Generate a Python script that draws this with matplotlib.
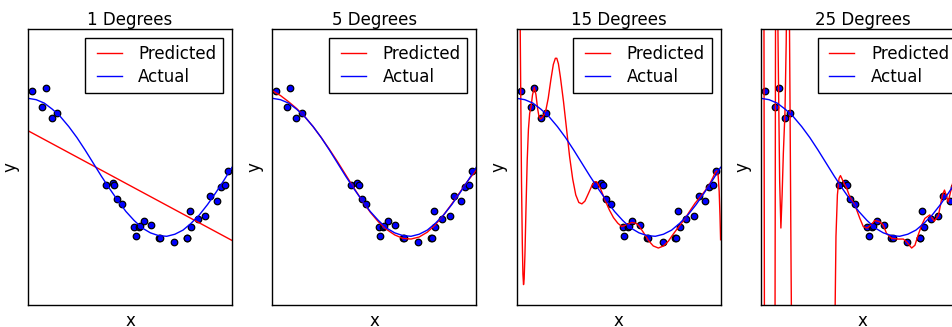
import matplotlib
matplotlib.use("Agg")
import matplotlib.pyplot as plt

# Noisy samples of the target curve
x_points = [0.0202, 0.0710, 0.0871, 0.1183, 0.1434, 0.3834, 0.4147, 0.4237,
            0.4376, 0.4615, 0.5219, 0.5289, 0.5449, 0.5488, 0.5680, 0.6028,
            0.6399, 0.6459, 0.7152, 0.7782, 0.7805, 0.7917, 0.7992, 0.8326,
            0.8700, 0.8918, 0.9256, 0.9447, 0.9637, 0.9786]
y_points = [1.11, 0.87, 1.15, 0.71, 0.79, -0.25, -0.23, -0.26,
            -0.46, -0.53, -0.86, -1.00, -0.86, -0.85, -0.78, -0.84,
            -1.03, -1.03, -1.08, -1.03, -1.02, -0.64, -0.87, -0.75,
            -0.70, -0.41, -0.49, -0.28, -0.26, -0.06]

# The underlying ("Actual") curve
x_actual = [0.00, 0.04, 0.08, 0.12, 0.16, 0.20, 0.24, 0.28, 0.32, 0.36,
            0.40, 0.44, 0.48, 0.52, 0.56, 0.60, 0.64, 0.68, 0.72, 0.76,
            0.80, 0.84, 0.88, 0.92, 0.96, 1.00]
y_actual = [1.00, 0.98, 0.93, 0.84, 0.73, 0.59, 0.43, 0.25, 0.06, -0.13,
            -0.31, -0.48, -0.64, -0.77, -0.88, -0.95, -0.99, -1.00, -0.97, -0.91,
            -0.81, -0.69, -0.54, -0.37, -0.19, 0.00]

# Model predictions for each polynomial degree
x_deg1 = [0.0, 1.0]
y_deg1 = [0.53, -1.06]

x_deg5 = x_actual
y_deg5 = [1.11, 1.04, 0.95, 0.85, 0.73, 0.59, 0.43, 0.26, 0.08, -0.11,
          -0.30, -0.48, -0.65, -0.79, -0.90, -0.98, -1.03, -1.04, -1.01, -0.94,
          -0.83, -0.69, -0.53, -0.36, -0.19, -0.04]

x_deg15 = [0.0, 0.008, 0.014, 0.018, 0.0202, 0.024, 0.028, 0.031, 0.034, 0.037,
           0.041, 0.046, 0.052, 0.058, 0.064, 0.071, 0.078, 0.087, 0.095, 0.103,
           0.11, 0.117, 0.125, 0.134, 0.143, 0.155, 0.168, 0.18, 0.19, 0.197,
           0.205, 0.215, 0.23, 0.245, 0.26, 0.275, 0.29, 0.305, 0.32, 0.335,
           0.352, 0.37, 0.383, 0.393, 0.41, 0.434, 0.455, 0.475, 0.496, 0.516,
           0.54, 0.565, 0.585, 0.6, 0.623, 0.646, 0.67, 0.695, 0.72, 0.744,
           0.765, 0.785, 0.806, 0.826, 0.85, 0.875, 0.9, 0.924, 0.945, 0.962,
           0.975, 0.982, 0.988, 0.993, 0.997, 1.0]
y_deg15 = [9.0, 5.5, 3.2, 1.9, 1.11, -0.2, -1.1, -1.55, -1.70, -1.62,
           -1.25, -0.6, 0.1, 0.55, 0.78, 0.88, 1.05, 1.16, 1.05, 0.85,
           0.73, 0.70, 0.72, 0.76, 0.82, 1.0, 1.27, 1.49, 1.58, 1.58,
           1.5, 1.3, 0.95, 0.55, 0.15, -0.17, -0.40, -0.51, -0.53, -0.49,
           -0.38, -0.26, -0.21, -0.21, -0.30, -0.48, -0.62, -0.73, -0.81, -0.86,
           -0.83, -0.80, -0.81, -0.85, -0.95, -1.06, -1.14, -1.17, -1.14, -1.07,
           -0.98, -0.90, -0.82, -0.74, -0.63, -0.52, -0.43, -0.34, -0.25, -0.15,
           -0.07, -0.05, -0.12, -0.35, -0.7, -1.05]

x_deg25 = [0.0, 0.012, 0.0202, 0.066, 0.075, 0.080, 0.086, 0.092, 0.098, 0.104,
           0.11, 0.118, 0.124, 0.128, 0.133, 0.138, 0.143, 0.148, 0.152, 0.16,
           0.355, 0.362, 0.368, 0.375, 0.383, 0.39, 0.398, 0.41, 0.42, 0.436,
           0.461, 0.485, 0.502, 0.521, 0.538, 0.559, 0.583, 0.6, 0.616, 0.641,
           0.673, 0.698, 0.714, 0.739, 0.755, 0.771, 0.788, 0.804, 0.828, 0.85,
           0.87, 0.89, 0.90, 0.918, 0.94, 0.96, 0.98, 1.0]
y_deg25 = [8.0, 8.0, -8.0, -8.0, 8.0, 3.0, 1.3, -0.2, -0.88, -0.4,
           0.2, 0.8, 1.8, 3.0, 3.5, 3.0, 0.8, -1.5, -3.0, -8.0,
           -8.0, -2.5, -1.0, -0.4, -0.16, -0.12, -0.17, -0.25, -0.30, -0.43,
           -0.55, -0.74, -0.86, -0.88, -0.84, -0.77, -0.79, -0.84, -0.96, -1.03,
           -1.04, -1.04, -1.08, -1.17, -1.13, -0.98, -0.84, -0.74, -0.69, -0.78,
           -0.70, -0.40, -0.33, -0.50, -0.23, -0.20, -0.05, -0.30]

degrees = [1, 5, 15, 25]
predictions = [(x_deg1, y_deg1), (x_deg5, y_deg5),
               (x_deg15, y_deg15), (x_deg25, y_deg25)]

W, H = 953, 327
fig = plt.figure(figsize=(W / 100, H / 100), dpi=100)
plt.rcParams["font.family"] = "DejaVu Sans"

ax_w, ax_top, ax_bottom = 204, 29.3, 305.3
for i, (deg, (xp, yp)) in enumerate(zip(degrees, predictions)):
    left = 28 + i * 244.3
    ax = fig.add_axes([left / W, 1 - ax_bottom / H, ax_w / W, (ax_bottom - ax_top) / H])
    ax.scatter(x_points, y_points, s=22, c="#0000ff", edgecolors="black", linewidths=0.9)
    ax.plot(xp, yp, color="red", lw=1.0, label="Predicted")
    ax.plot(x_actual, y_actual, color="blue", lw=1.0, label="Actual")
    ax.set_xlim(0, 1)
    ax.set_ylim(-2, 2)
    ax.set_xticks([])
    ax.set_yticks([])
    for sp in ax.spines.values():
        sp.set_color("black")
        sp.set_linewidth(1.0)
    ax.set_xlabel("x", fontsize=12, labelpad=4.5)
    ax.set_ylabel("y", fontsize=12, labelpad=6.5)
    ax.set_title(f"{deg} Degrees", fontsize=12, pad=2)
    leg = ax.legend(loc="upper right", fontsize=12, numpoints=2, fancybox=False,
                    framealpha=1, edgecolor="black", handlelength=2.1,
                    handletextpad=0.7, borderpad=0.4, labelspacing=0.3,
                    borderaxespad=0.54)
    leg.get_frame().set_linewidth(1.0)

fig.savefig("out.png", dpi=100)
